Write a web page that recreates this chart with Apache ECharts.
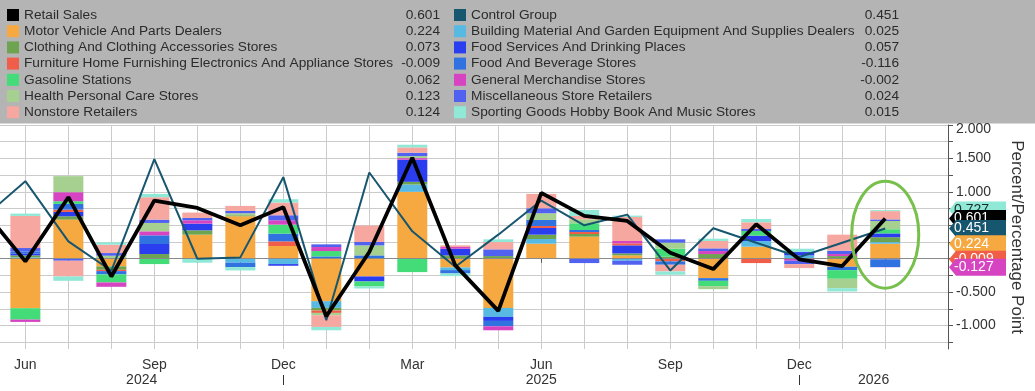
<!DOCTYPE html>
<html><head><meta charset="utf-8">
<script src="https://cdn.jsdelivr.net/npm/echarts@6/dist/echarts.min.js"></script>
<style>html,body{margin:0;padding:0;background:#fff}#c{width:1035px;height:391px}</style>
</head><body><div id="c"></div>
<script>
// ---- data (index 0 = May 2024 ... index 21 = Feb 2026) ----
const months = ['May','Jun','Jul','Aug','Sep','Oct','Nov','Dec','Jan','Feb','Mar','Apr','May','Jun','Jul','Aug','Sep','Oct','Nov','Dec','Jan','Feb'];
const years = [2024,2024,2024,2024,2024,2024,2024,2024,2025,2025,2025,2025,2025,2025,2025,2025,2025,2025,2025,2025,2026,2026];
const monthTickLabels = ['Jun','Sep','Dec','Mar'];
const yTickLabels = [-1, -0.5, 0, 0.5, 1, 1.5, 2];

const retail   = [0.75, -0.04, 0.92, -0.265, 0.87, 0.76, 0.5, 0.77, -0.86, 0.1, 1.51, -0.1, -0.78, 0.985, 0.64, 0.565, 0.09, -0.155, 0.515, -0.01, -0.11, 0.601];
const control  = [0.6, 1.16, 0.26, -0.18, 1.49, 0.0, 0.02, 1.22, -0.92, 1.29, 0.41, -0.12, 0.36, 0.87, 0.5, 0.66, -0.175, 0.455, 0.24, 0.025, 0.24, 0.451];
const motor    = [null, -0.74, 0.585, -0.115, 0, 0.36, 0.635, 0.19, -0.635, -0.265, 1.0, -0.13, -0.735, 0.225, 0.33, 0.05, 0, -0.29, 0.18, 0, -0.12, 0.224];
const building = [null, 0.02, 0, 0.01, 0, 0, -0.06, -0.08, -0.1, 0, 0.11, -0.04, -0.135, 0.07, 0, -0.03, 0, 0, 0.085, 0.05, 0, 0.025];
const clothing = [null, 0.03, 0.05, -0.05, 0.07, 0.065, 0.015, 0, -0.04, 0, 0.04, 0.05, 0.04, 0.065, 0.04, 0.03, 0.03, 0.07, 0, 0, 0.04, 0.073];
const foodServ = [null, 0.03, 0.065, 0, 0.15, 0.1, 0, -0.025, 0, -0.075, 0.33, 0.1, -0.06, 0.1, 0, 0.12, 0, 0, 0.08, 0.05, 0, 0.057];
const furniture= [null, 0, 0.035, -0.02, 0, 0, 0, 0.07, -0.035, 0, 0, 0, 0, 0.03, 0.03, 0.03, -0.04, 0, -0.065, 0, 0, -0.009];
const foodBev  = [null, 0.03, 0.085, -0.05, 0.13, 0, -0.065, 0.115, 0.035, 0.05, 0, -0.05, -0.08, 0.09, 0.03, 0, -0.05, -0.04, 0, 0, -0.05, -0.116];
const gasoline = [null, -0.17, 0.04, -0.12, -0.08, 0, 0, 0.135, 0.08, -0.075, -0.2, 0, 0, 0, 0.1, 0, 0.12, -0.08, 0.07, 0, -0.13, 0.062];
const genMerch = [null, -0.035, 0.135, -0.065, 0.06, 0.05, 0, 0.065, 0.06, 0, 0.025, 0.025, -0.06, 0, 0, 0.035, 0, 0.045, 0, -0.03, 0.03, -0.002];
const health   = [null, 0, 0.24, 0.035, 0.125, 0, 0.03, 0, -0.035, 0.15, 0.03, 0, 0, 0.1, 0.06, 0, 0.09, -0.045, 0, 0, -0.14, 0.123];
const misc     = [null, 0.05, -0.03, 0.04, 0.05, 0.035, 0.035, 0.075, 0.04, 0.05, 0.05, 0, 0.1, 0.075, -0.065, -0.06, 0.05, 0.04, 0.03, -0.05, 0.05, 0.024];
const nonstore = [null, 0.48, -0.235, 0.125, 0.335, 0.08, 0.075, 0.19, -0.175, 0.245, 0.08, 0.025, 0.11, 0.215, 0.05, 0.36, -0.1, 0.11, 0.1, -0.06, 0.24, 0.124];
const sporting = [null, 0.035, -0.065, 0.035, 0.05, -0.06, -0.05, 0.05, -0.05, -0.03, 0.04, -0.04, 0.04, 0, 0.09, 0.02, -0.05, 0.035, 0.05, 0.05, -0.05, 0.015];

// ---- series definitions (stack order) ----
const FONT = '"Liberation Sans", Arial, sans-serif';
const comps = [
  {name:'Motor Vehicle And Parts Dealers', data: motor, color:'#f7a941'},
  {name:'Building Material And Garden Equipment And Supplies Dealers', data: building, color:'#58b9e2'},
  {name:'Clothing And Clothing Accessories Stores', data: clothing, color:'#6ea34f'},
  {name:'Food Services And Drinking Places', data: foodServ, color:'#2a3ef0'},
  {name:'Furniture Home Furnishing Electronics And Appliance Stores', data: furniture, color:'#f05d48'},
  {name:'Food And Beverage Stores', data: foodBev, color:'#2f72e0'},
  {name:'Gasoline Stations', data: gasoline, color:'#43dc78'},
  {name:'General Merchandise Stores', data: genMerch, color:'#d644c2'},
  {name:'Health Personal Care Stores', data: health, color:'#a6d08f'},
  {name:'Miscellaneous Store Retailers', data: misc, color:'#5262f0'},
  {name:'Nonstore Retailers', data: nonstore, color:'#f5a7a0'},
  {name:'Sporting Goods Hobby Book And Music Stores', data: sporting, color:'#90e8d6'}
];
const RETAIL_COLOR = '#000000', CONTROL_COLOR = '#17566f';
const lastIdx = months.length - 1;
const lastVal = {'Retail Sales': retail[lastIdx], 'Control Group': control[lastIdx]};
comps.forEach(c => lastVal[c.name] = c.data[lastIdx]);
const colorOf = {}; comps.forEach(c => colorOf[c.name] = c.color);

const X_MIN = 0.41, X_MAX = 22.46;
const monthTicks = months.map((m, i) => i).filter(i => i >= 1);
const monthLabelIdx = monthTicks.filter(i => monthTickLabels.indexOf(months[i]) >= 0);
const yearBounds = [];
for (let i = 0; i < years.length - 1; i++) if (years[i + 1] !== years[i]) yearBounds.push(i);
const edges = [X_MIN].concat(yearBounds, [X_MAX]);
const yearCenters = [], yearNames = [];
for (let k = 0; k < edges.length - 1; k++) {
  yearCenters.push((edges[k] + edges[k + 1]) / 2);
  yearNames.push(String(years[0] + k));
}
const yTicks = []; for (let v = -1.25; v <= 2.0001; v += 0.25) yTicks.push(+v.toFixed(2));

// tags at right
const posSum = comps.reduce((s, c) => s + (c.data[lastIdx] > 0 ? c.data[lastIdx] : 0), 0);
const negSum = comps.reduce((s, c) => s + (c.data[lastIdx] < 0 ? c.data[lastIdx] : 0), 0);
const tags = [
  {value: posSum, color: colorOf['Sporting Goods Hobby Book And Music Stores'], text: '#1b2b2b'},
  {value: retail[lastIdx], color: RETAIL_COLOR, text: '#ffffff'},
  {value: control[lastIdx], color: CONTROL_COLOR, text: '#ffffff'},
  {value: motor[lastIdx], color: colorOf['Motor Vehicle And Parts Dealers'], text: '#ffffff'},
  {value: furniture[lastIdx], color: colorOf['Furniture Home Furnishing Electronics And Appliance Stores'], text: '#ffffff'},
  {value: negSum, color: colorOf['General Merchandise Stores'], text: '#ffffff'}
];

const leftNames = ['Retail Sales','Motor Vehicle And Parts Dealers','Clothing And Clothing Accessories Stores','Furniture Home Furnishing Electronics And Appliance Stores','Gasoline Stations','Health Personal Care Stores','Nonstore Retailers'];
const rightNames = ['Control Group','Building Material And Garden Equipment And Supplies Dealers','Food Services And Drinking Places','Food And Beverage Stores','General Merchandise Stores','Miscellaneous Store Retailers','Sporting Goods Hobby Book And Music Stores'];

function legendCfg(names, left, nameW) {
  return {
    data: names, left: left, top: 7, padding: 0, orient: 'vertical', icon: 'rect',
    itemWidth: 12, itemHeight: 12, itemGap: 0.2, selectedMode: false,
    formatter: n => '{n|' + n + '}{v|' + lastVal[n].toFixed(3) + '}',
    textStyle: {
      fontFamily: FONT, fontSize: 13.7, color: '#2b2b2b', lineHeight: 16,
      rich: {
        n: {width: nameW, fontFamily: FONT, fontSize: 13.7, color: '#2b2b2b', lineHeight: 16},
        v: {width: 48, align: 'right', fontFamily: FONT, fontSize: 13.7, color: '#2b2b2b', lineHeight: 16}
      }
    }
  };
}

// data items are [value, monthIndex] and encoded so that the value is stacked
const series = comps.map((c, k) => ({
  name: c.name, type: 'bar', stack: 'total', barWidth: 30,
  encode: {x: 1, y: 0},
  itemStyle: {color: c.color},
  data: c.data.map((v, i) => [v, i]),
  markLine: k === comps.length - 1 ? {
    silent: true, symbol: 'none', label: {show: false},
    lineStyle: {color: '#8a8a8a', width: 1, type: 'solid'},
    data: [{yAxis: 0}]
  } : undefined
}));
series.push({
  name: 'Control Group', type: 'line', symbol: 'none', z: 5,
  lineStyle: {color: CONTROL_COLOR, width: 2}, itemStyle: {color: CONTROL_COLOR},
  data: control.map((v, i) => [i, v])
});
series.push({
  name: 'Retail Sales', type: 'line', symbol: 'none', z: 6,
  lineStyle: {color: RETAIL_COLOR, width: 3.8}, itemStyle: {color: RETAIL_COLOR},
  data: retail.map((v, i) => [i, v])
});
series.push({
  name: 'highlight', type: 'custom', coordinateSystem: 'cartesian2d', clip: false, z: 7, silent: true,
  data: [[lastIdx, (posSum + negSum) / 2 + 0.06]],
  renderItem: (p, api) => {
    const c = api.coord([api.value(0), api.value(1)]);
    const s = api.size([0.78, 0.8]);
    return {type: 'ellipse', shape: {cx: c[0], cy: c[1], rx: s[0], ry: s[1]},
      style: {fill: 'none', stroke: '#78c04c', lineWidth: 3}};
  }
});
series.push({
  name: 'tags', type: 'custom', coordinateSystem: 'cartesian2d', clip: false, z: 20, silent: true,
  data: tags.map(t => [X_MAX, t.value]),
  renderItem: (p, api) => {
    const t = tags[p.dataIndex];
    const c = api.coord([api.value(0), api.value(1)]);
    const x = c[0] + 1, y = c[1], h = 8.5;
    return {type: 'group', children: [
      {type: 'polygon', shape: {points: [[x, y], [x + 7, y - h], [x + 57, y - h], [x + 57, y + h], [x + 7, y + h]]},
        style: {fill: t.color}},
      {type: 'text', style: {text: t.value.toFixed(3), x: x + 5, y: y, align: 'left', verticalAlign: 'middle',
        fill: t.text, font: '14px ' + FONT}}
    ]};
  }
});

const option = {
  animation: false,
  backgroundColor: '#ffffff',
  textStyle: {fontFamily: FONT},
  graphic: [{type: 'rect', left: 0, top: 0, z: -10, shape: {width: 1035, height: 123.5}, style: {fill: '#b4b4b4'}}],
  legend: [legendCfg(leftNames, 7, 368), legendCfg(rightNames, 454, 380)],
  grid: {left: 0, right: 87, top: 125, bottom: 42, containLabel: false},
  xAxis: [{
    type: 'value', min: X_MIN, max: X_MAX, position: 'bottom',
    axisLine: {show: true, lineStyle: {color: '#555', width: 1}},
    axisTick: {show: true, customValues: monthTicks, length: 4, lineStyle: {color: '#555'}},
    axisLabel: {customValues: monthLabelIdx, formatter: v => months[Math.round(v)], fontSize: 14, color: '#333', fontFamily: FONT, margin: 9},
    splitLine: {show: true, lineStyle: {color: '#cbcbcb', width: 1}}
  }, {
    type: 'value', min: X_MIN, max: X_MAX, position: 'bottom', offset: 26,
    axisLine: {show: false},
    axisTick: {show: true, customValues: yearBounds, length: 10, lineStyle: {color: '#333'}},
    axisLabel: {customValues: yearCenters, formatter: v => yearNames[yearCenters.findIndex(c => Math.abs(c - v) < 1e-6)], fontSize: 14, color: '#333', fontFamily: FONT, margin: -2},
    splitLine: {show: false}
  }],
  yAxis: {
    type: 'value', position: 'right', min: -1.35, max: 2.0,
    name: 'Percent/Percentage Point', nameLocation: 'middle', nameRotate: -90, nameGap: 60,
    nameTextStyle: {fontSize: 17, color: '#333', fontFamily: FONT},
    axisLine: {show: true, lineStyle: {color: '#555', width: 1}},
    axisTick: {show: true, customValues: yTicks, length: 5, lineStyle: {color: '#555'}},
    axisLabel: {
      customValues: yTickLabels, fontSize: 14, color: '#333', fontFamily: FONT, margin: 8,
      formatter: v => v >= 2 ? '{t|' + v.toFixed(3) + '}' : v.toFixed(3),
      rich: {t: {fontSize: 14, color: '#333', fontFamily: FONT, padding: [9, 0, 0, 0]}}
    },
    splitLine: {show: true, lineStyle: {color: '#cbcbcb', width: 1}}
  },
  series: series
};
const chart = echarts.init(document.getElementById('c'), null, {renderer: 'canvas'});
chart.setOption(option);
</script>
</body></html>
